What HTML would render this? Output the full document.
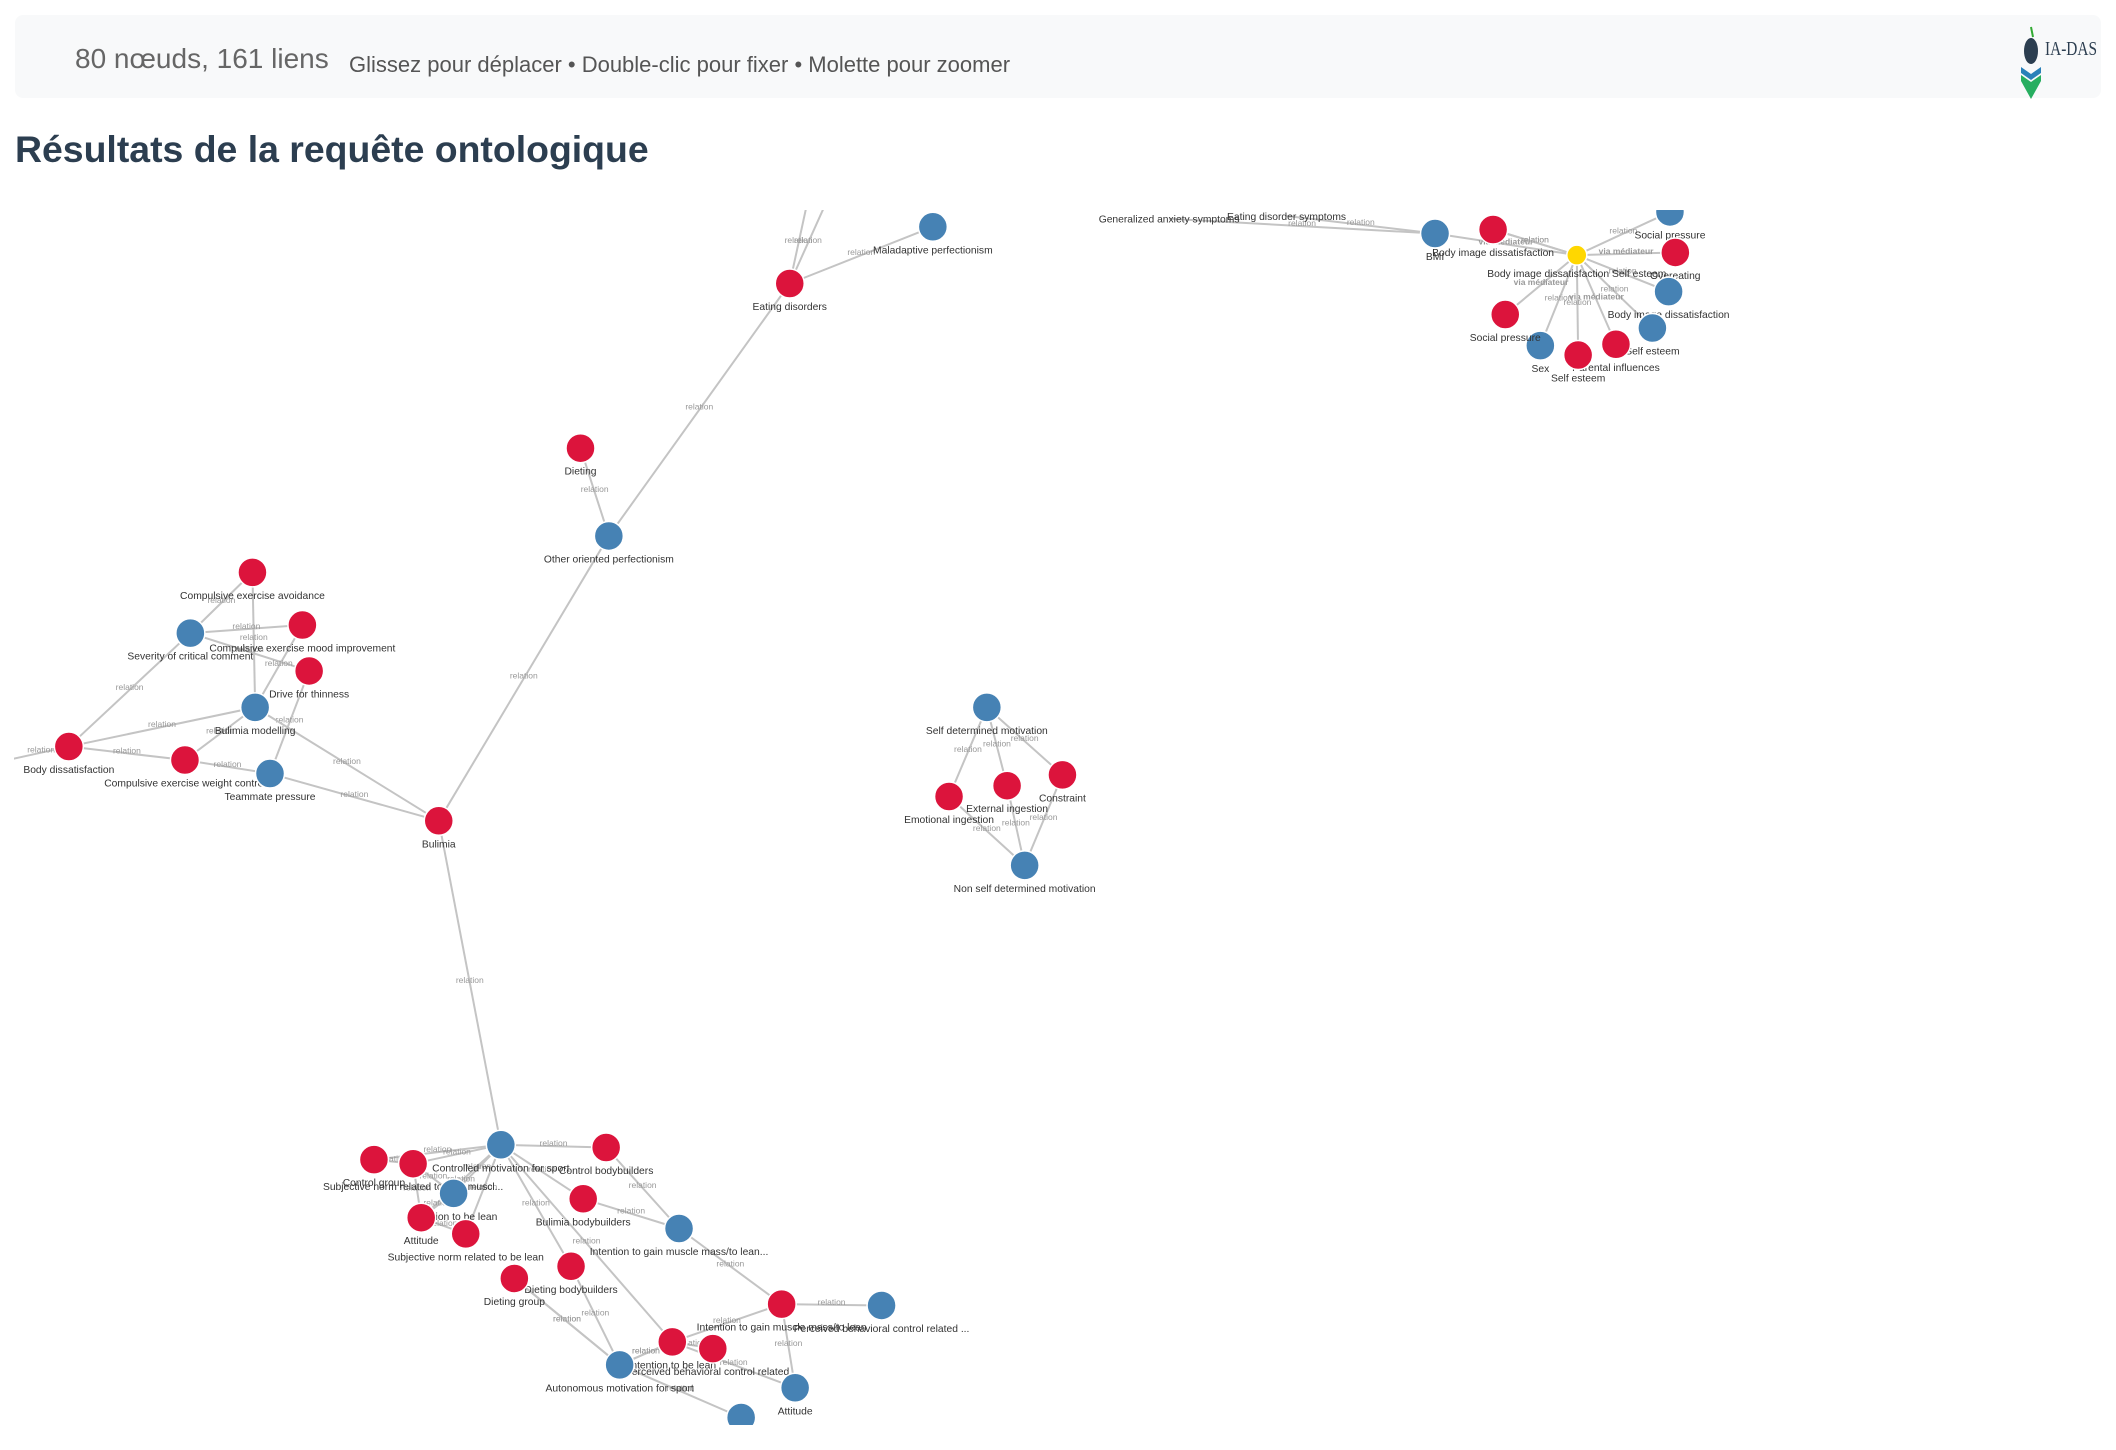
<!DOCTYPE html>
<html><head><meta charset="utf-8"><style>
body{margin:0;width:2116px;height:1450px;background:#fff;font-family:"Liberation Sans",sans-serif;overflow:hidden;position:relative}
#hdr{position:absolute;left:15px;top:15px;width:2086px;height:83px;background:#f8f9fa;border-radius:8px}
#cnt{position:absolute;left:60px;top:28px;font-size:28px;color:#666}
#hint{position:absolute;left:334px;top:37px;font-size:22px;color:#555}
#title{position:absolute;left:15px;top:128px;font-size:37.4px;font-weight:bold;color:#2c3e50;margin:0}
#logo{position:absolute;left:1990px;top:10px}
#graph{position:absolute;left:14px;top:210px}
</style></head><body>
<div id="hdr">
<span id="cnt">80 nœuds, 161 liens</span>
<span id="hint">Glissez pour déplacer • Double-clic pour fixer • Molette pour zoomer</span>
<svg id="logo" width="94" height="90">
<path d="M26 2 l2 10" stroke="#3a3" stroke-width="2"/>
<ellipse cx="26" cy="26" rx="7" ry="13" fill="#2c3e50"/>
<path d="M16 42 l10 7 l10 -7 l0 6 l-10 7 l-10 -7z" fill="#2980b9"/>
<path d="M16 50 l10 7 l10 -7 l0 6 l-10 18 l-10 -18z" fill="#27ae60"/>
<text x="40" y="30" font-family="Liberation Serif" font-size="20" fill="#2c3e50" textLength="52" lengthAdjust="spacingAndGlyphs">IA-DAS</text>
</svg>
</div>
<h1 id="title">Résultats de la requête ontologique</h1>
<svg id="graph" width="2090" height="1215"></svg>
<script>
const S=1.35, OX=14, OY=210;
const nodeNames=["Maladaptive perfectionism","Eating disorders","Dieting","Other oriented perfectionism","Bulimia","Compulsive exercise avoidance","Severity of critical comment","Compulsive exercise mood improvement","Drive for thinness","Bulimia modelling","Body dissatisfaction","Compulsive exercise weight control","Teammate pressure","Self determined motivation","Emotional ingestion","External ingestion","Constraint","Non self determined motivation","Controlled motivation for sport","Control group","Subjective norm related to gain muscl...","Control bodybuilders","Intention to be lean","Attitude","Subjective norm related to be lean","Bulimia bodybuilders","Intention to gain muscle mass/to lean...","Dieting bodybuilders","Dieting group","Intention to gain muscle mass/to lean","Perceived behavioral control related ...","Intention to be lean","Perceived behavioral control related ...","Autonomous motivation for sport","Attitude","","BMI","Body image dissatisfaction","Body image dissatisfaction Self esteem","Social pressure","Overeating","Body image dissatisfaction","Self esteem","Parental influences","Self esteem","Sex","Social pressure","Generalized anxiety symptoms","Eating disorder symptoms","","",""];
const nodeX=[691,585,430,451,325,187,141,224,229,189,51,137,200,731,703,746,787,759,371,277,306,449,336,312,345,432,503,423,381,579,653,498,528,459,589,549,1063,1106,1168,1237,1241,1236,1224,1197,1169,1141,1115,866,953,598,612,10];
const nodeY=[168,210,332,397,608,424,469,463,497,524,553,563,573,524,590,582,574,641,848,859,862,850,884,902,914,888,910,938,947,966,967,994,999,1011,1028,1050,173,170,189,157,187,216,243,255,263,256,233,162,160,150,150,562];
const nodeType=["b","r","r","b","r","r","b","r","r","b","r","r","b","b","r","r","r","b","b","r","r","r","b","r","r","r","b","r","r","r","b","r","r","b","b","b","b","r","y","b","r","b","b","r","r","b","r","n","n","n","n","n"];
const edgeSrc=[0,1,1,1,2,3,4,5,5,6,6,6,7,8,9,9,9,10,10,11,12,13,13,13,14,15,16,18,18,18,18,18,18,18,18,18,19,20,20,22,23,25,26,26,27,28,29,29,29,31,31,31,33,33,33,36,36,38,38,38,38,38,38,38,38,38,38,38];
const edgeDst=[1,49,50,3,3,4,18,6,9,8,10,7,9,12,10,11,4,11,51,12,4,14,15,16,17,17,17,19,20,21,22,23,24,25,27,31,20,22,23,23,24,26,21,29,33,33,30,31,34,32,33,34,28,35,31,47,48,36,37,39,40,41,42,43,44,45,46,37];
const edgeLbl=edgeSrc.map((s,i)=>s===38&&i%3===0?"via médiateur":"relation");
const colors={b:"#4682b4",r:"#dc143c",y:"#ffd700"};
const g=document.getElementById('graph');
const NS="http://www.w3.org/2000/svg";
const px=i=>nodeX[i]*S-OX, py=i=>nodeY[i]*S-OY;
edgeSrc.forEach((s,i)=>{const d=edgeDst[i];
 const l=document.createElementNS(NS,'line');
 
 
 l.setAttribute('x1',px(s));l.setAttribute('y1',py(s));l.setAttribute('x2',px(d));l.setAttribute('y2',py(d));
 l.setAttribute('stroke','#c4c4c4');l.setAttribute('stroke-width','2');g.appendChild(l);
 const t=document.createElementNS(NS,'text');
 
 
 t.setAttribute('x',(px(s)+px(d))/2);t.setAttribute('y',(py(s)+py(d))/2);
 t.setAttribute('font-size','8.5');t.setAttribute('fill','#999');t.setAttribute('text-anchor','middle');
 if(edgeLbl[i]!=="relation")t.setAttribute('font-weight','bold');
 t.textContent=edgeLbl[i];g.appendChild(t);});
nodeX.forEach((x,i)=>{if(nodeType[i]==="n"){ if(nodeNames[i]){const t=document.createElementNS(NS,'text');
 
 
 t.setAttribute('x',px(i));t.setAttribute('y',py(i)+4);t.setAttribute('font-size','10.3');t.setAttribute('fill','#333');t.setAttribute('text-anchor','middle');t.textContent=nodeNames[i];g.appendChild(t);} return;}
 const c=document.createElementNS(NS,'circle');
 
 
 const r=nodeType[i]==="y"?10:14.5;
 c.setAttribute('cx',px(i));c.setAttribute('cy',py(i));c.setAttribute('r',r);c.setAttribute('fill',colors[nodeType[i]]);
 c.setAttribute('stroke','#fff');c.setAttribute('stroke-width','1.5');g.appendChild(c);
 if(nodeNames[i]){const t=document.createElementNS(NS,'text');
 
 
 t.setAttribute('x',px(i));t.setAttribute('y',py(i)+r+12);t.setAttribute('font-size','10.3');t.setAttribute('fill','#333');t.setAttribute('text-anchor','middle');t.textContent=nodeNames[i];g.appendChild(t);}
});
</script>
</body></html>
